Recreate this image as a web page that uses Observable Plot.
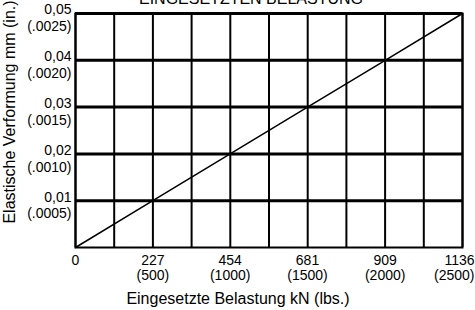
<!DOCTYPE html>
<html>
<head>
<meta charset="utf-8">
<script src="https://cdn.jsdelivr.net/npm/d3@7"></script>
<script src="https://cdn.jsdelivr.net/npm/@observablehq/plot@0.6"></script>
<style>
  html, body { margin: 0; padding: 0; background: white; }
  #wrap { position: relative; width: 475px; height: 310px; overflow: hidden; }
  #title { position: absolute; top: -9.5px; left: 251px; transform: translateX(-50%);
    font: 16px/16px "Liberation Sans", Arial, sans-serif; white-space: nowrap; z-index: 2; color: black; }
  #ytitle { position: absolute; left: 10px; top: 112px; transform: translate(-50%, -50%) rotate(-90deg);
    font: 16px/16px "Liberation Sans", Arial, sans-serif; white-space: nowrap; z-index: 2; color: black; }
</style>
</head>
<body>
<div id="wrap"><div id="title">EINGESETZTEN BELASTUNG</div><div id="ytitle">Elastische Verformung mm (in.)</div></div>
<script>
// Load in kN and deflection in mm
const loadKN = [0, 227, 454, 681, 909, 1136];
const deflectionMM = [0, 0.01, 0.02, 0.03, 0.04, 0.05];

// Axis tick labels
const xTickValues = [0, 227, 454, 681, 909];
const xTickLbs = ["", "(500)", "(1000)", "(1500)", "(2000)"];
const xLastTick = [1136];
const xLastLbs = ["(2500)"];
const yTickValues = [0.01, 0.02, 0.03, 0.04, 0.05];
const yTickMM = ["0,01", "0,02", "0,03", "0,04", "0,05"];
const yTickIn = ["(.0005)", "(.0010)", "(.0015)", "(.0020)", "(.0025)"];

// Grid line positions
const gridLoads = [0, 113.6, 227.2, 340.8, 454.4, 568, 681.6, 795.2, 908.8, 1022.4, 1136];
const gridDeflections = [0.01, 0.02, 0.03, 0.04, 0.05];

const xTitle = "Eingesetzte Belastung kN (lbs.)";

const curve = loadKN.map((x, i) => ({x, y: deflectionMM[i]}));

const chart = Plot.plot({
  width: 475,
  height: 310,
  marginLeft: 75,
  marginRight: 13,
  marginTop: 13,
  marginBottom: 63,
  x: {domain: [0, 1136]},
  y: {domain: [0, 0.05]},
  style: {fontFamily: "'Liberation Sans', Arial, sans-serif", fontSize: "14px", color: "black", background: "white"},
  marks: [
    Plot.ruleX(gridLoads, {stroke: "black", strokeWidth: 2}),
    Plot.ruleY(gridDeflections, {stroke: "black", strokeWidth: 3}),
    Plot.frame({stroke: "black", strokeWidth: 2}),
    Plot.line(curve, {x: "x", y: "y", stroke: "black", strokeWidth: 1.5}),
    Plot.axisY(yTickValues, {
      tickSize: 0, tickPadding: 4, label: null, fontSize: 14, lineHeight: 1.2, dy: 4,
      tickFormat: d => { const i = yTickValues.indexOf(d); return yTickMM[i] + "\n" + yTickIn[i]; }
    }),
    Plot.axisX(xTickValues, {
      tickSize: 0, tickPadding: 7, label: null, fontSize: 14, lineHeight: 1.05,
      tickFormat: d => { const i = xTickValues.indexOf(d); return xTickLbs[i] ? d + "\n" + xTickLbs[i] : String(d); }
    }),
    Plot.axisX(xLastTick, {
      tickSize: 0, tickPadding: 7, label: null, fontSize: 14, lineHeight: 1.05, textAnchor: "end", dx: 12,
      tickFormat: d => d + "\n" + xLastLbs[xLastTick.indexOf(d)]
    }),
    Plot.text([xTitle], {text: d => d, frameAnchor: "bottom", dx: -31, dy: 56, fontSize: 16})
  ]
});
document.getElementById("wrap").appendChild(chart);
</script>
</body>
</html>
